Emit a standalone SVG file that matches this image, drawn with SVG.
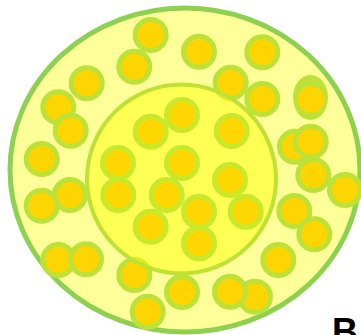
<svg xmlns="http://www.w3.org/2000/svg" width="361" height="335" viewBox="0 0 361 335">
<style>
.o{fill:#FFD500;stroke:#BCE23A;stroke-width:5}
.i{fill:#FFD700;stroke:#C8E82C;stroke-width:5}
.lbl{font-family:"Liberation Sans",Arial,sans-serif;font-weight:bold;font-size:36px;fill:#000}
</style>
<rect width="361" height="335" fill="#fff"/>
<g id="outer"><ellipse cx="185" cy="170" rx="175" ry="162" fill="#FFFF99" stroke="#8ED150" stroke-width="5"/></g>
<g id="outer-particles">
<circle class="o" cx="150.7" cy="35" r="15.5"/>
<circle class="o" cx="134.3" cy="66.7" r="15.5"/>
<circle class="o" cx="199" cy="51.7" r="15.5"/>
<circle class="o" cx="262.3" cy="52.3" r="15.5"/>
<circle class="o" cx="86.7" cy="83.3" r="15.5"/>
<circle class="o" cx="58.3" cy="107.3" r="15.5"/>
<circle class="o" cx="70.7" cy="130.7" r="15.5"/>
<circle class="o" cx="230.7" cy="82.7" r="15.5"/>
<circle class="o" cx="262.3" cy="99" r="15.5"/>
<ellipse cx="310.5" cy="97.5" rx="17.5" ry="22.5" fill="#BCE23A"/>
<circle cx="311" cy="99.5" r="13.3" fill="#FFD500"/>
<circle class="o" cx="41.7" cy="159" r="15.5"/>
<circle class="o" cx="295" cy="146.7" r="15.5"/>
<circle class="o" cx="310.7" cy="141.7" r="15.5"/>
<circle class="o" cx="313.3" cy="175" r="15.5"/>
<circle class="o" cx="345" cy="190" r="15.5"/>
<circle class="o" cx="70" cy="195" r="15.5"/>
<circle class="o" cx="41.7" cy="205.7" r="15.5"/>
<circle class="o" cx="294.3" cy="211" r="15.5"/>
<circle class="o" cx="314.3" cy="234.3" r="15.5"/>
<circle class="o" cx="278.3" cy="260" r="15.5"/>
<circle class="o" cx="58.3" cy="260" r="15.5"/>
<circle class="o" cx="86" cy="259.3" r="15.5"/>
<circle class="o" cx="134.3" cy="275" r="15.5"/>
<circle class="o" cx="147.7" cy="311.7" r="15.5"/>
<circle class="o" cx="182" cy="292" r="15.5"/>
<circle class="o" cx="255" cy="296.7" r="15.5"/>
<circle class="o" cx="230" cy="291.7" r="15.5"/>
</g>
<g id="inner"><circle cx="181.5" cy="179" r="94.5" fill="#FFFF00" fill-opacity="0.45" stroke="#BDE233" stroke-width="4"/></g>
<g id="inner-particles">
<circle class="i" cx="182" cy="115" r="15.5"/>
<circle class="i" cx="150.7" cy="131.7" r="15.5"/>
<circle class="i" cx="231.7" cy="131" r="15.5"/>
<circle class="i" cx="118" cy="163" r="15.5"/>
<circle class="i" cx="182" cy="163" r="15.5"/>
<circle class="i" cx="230" cy="180" r="15.5"/>
<circle class="i" cx="118.3" cy="195" r="15.5"/>
<circle class="i" cx="166.7" cy="195" r="15.5"/>
<circle class="i" cx="199" cy="211.7" r="15.5"/>
<circle class="i" cx="245.7" cy="211.7" r="15.5"/>
<circle class="i" cx="150.7" cy="226.7" r="15.5"/>
<circle class="i" cx="199" cy="243.3" r="15.5"/>
</g>
<g id="label"><text class="lbl" x="332" y="344">B</text></g>
<g id="connectors"/>
</svg>
